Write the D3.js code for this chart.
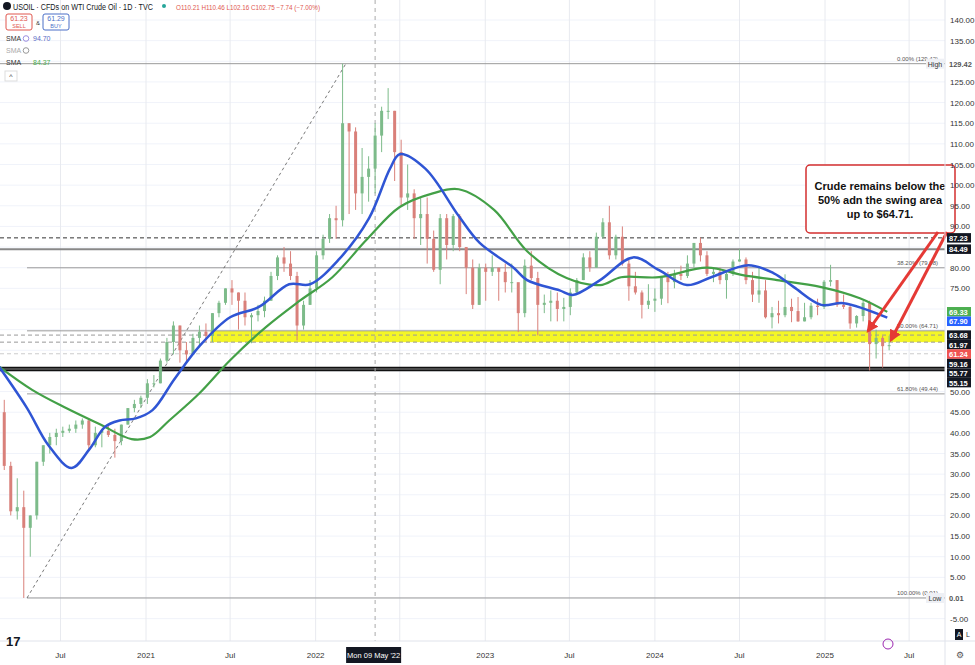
<!DOCTYPE html>
<html><head><meta charset="utf-8">
<script src="https://cdn.jsdelivr.net/npm/d3@7"></script>
<style>body{margin:0;background:#fff;font-family:"Liberation Sans",Arial,sans-serif}</style>
</head><body><svg id="c" width="975" height="665"></svg>
<script>
// biweekly candles [high, low, close], starting 2020-02-17
const candleStart = "2020-02-17";
const candles = [
[53,44,45],[48,31,32],[33,20,21],[29,19,22],[26,0.01,17],[20,10,20],[33,19,33],[37,32,37],[40,35,39],[41,37,40],
[41.5,39,40.5],[42,40,41],[43,40,42],[43.5,41,43],[43.5,36,37],[41.5,36.5,40],[41,36.5,40.5],[42,39,39.5],[41,34,38],[42,37,42],
[46,42,46],[48,45,47],[49,46,48.5],
[53,47,52],[54,51,52],[58,52,57.5],[63,57,62],[67,59,66],[66,57,60],[62,57,59],[64,59,63],[66,61,64.5],[66.5,62,63.5],
[69,62,69],[72,68,71.5],[75,71,75],[77,71,74],[74,65,72],[74,66,68],[69,61.7,68.5],[71,67,69.5],[73,68,72],[79,72,78],
[83,77,82.5],[85,79,81],[84,77,78],[79,62.4,66],[72,65,71],[77,71,75],
[84,74,83],[88,82,87],[93,86,92],[95,87,91.5],[129.42,90,115],[115,93,113],[114,94,98],[109,93,102],[107,96,104],[115,98,112],
[119,108,118],[123.5,116,118],[118,101,108],[111,95,97],[105,94,98],[99,87,92],[97,85.5,93],[97,81,87],[89,79,79.5],[93,76,92],
[93,82,85.5],[93,84,92.5],[93,84,85],[85,73.6,80],[82,70,71],[81,71,80],
[81,72,79],[83,78,80],[80,72,79],[81,74,76.5],[81,74,76.5],[76,64.4,69],[82,68,80.5],[84,77,77.5],[79,63.6,71],[73.5,69,71.5],
[74.5,67,72],[74,67,70],[72.7,67,70.5],[75,68.5,74],[77.5,73.5,77],[83.5,77,82.5],[84,79,80],[88.5,80,87.5],[92,87,91],[95,82,83],
[88,82,87.5],[90,80.5,81],[82,72,75.5],[79,73.5,74],[74.5,67.7,71],[76,70,72],
[75,69.3,72.5],[78,71,78],[79,71.4,76.5],[79.5,75,78.5],[80.5,77,78],[83,77.5,81],[86,80,86],[87.3,81.5,83],[84,78,78.5],[80,76.5,79],
[80,76,77],[79,72.5,78.5],[82,78,81.5],[84.5,81.5,82],[82.5,76,77],[79,71.7,73.5],[80,71.5,74.5],[77,67.7,68],[70.5,65.3,69],[72,66.5,68.5],
[78.4,68,70.5],[72.5,66.8,69.5],[72.9,66.9,67],[71.5,67,68],[71.5,67.5,70.8],[72.5,68.5,70.5],
[77,70,76.6],[80.7,75.5,77],[77,70.5,71],[73.5,70,70.5],[71,65.2,66.5],[68.5,65.5,68.3],[72,67,71.5],[72,55.12,61.5],[65,58,63],[63.5,55.8,61],[63.5,60,61.24]
];
const firstOpen = 52;
const blueSMA = [["2020-02-20",56],["2020-04-20",46],["2020-06-05",37],["2020-07-25",31.5],["2020-09-01",36],["2020-10-05",41.5],["2020-11-05",43],["2020-12-10",43.5],["2021-01-15",45.5],["2021-03-03",53],["2021-04-26",61],["2021-07-01",68],["2021-09-01",70.5],["2021-11-05",76],["2021-12-20",76],["2022-02-20",82],["2022-04-26",92],["2022-06-10",104],["2022-07-01",107.5],["2022-08-25",104],["2022-11-05",92.5],["2022-12-20",86],["2023-03-03",80],["2023-04-01",77],["2023-06-10",74.5],["2023-07-08",73.4],["2023-09-05",77],["2023-11-15",82.5],["2024-01-10",79.4],["2024-03-10",75.8],["2024-05-01",77.7],["2024-07-20",80.6],["2024-09-12",78.7],["2024-10-26",75.3],["2024-12-24",71],["2025-02-10",71.4],["2025-05-15",67.9]];
const greenSMA = [["2020-02-20",56],["2020-05-01",50.4],["2020-07-13",46],["2020-09-25",42],["2020-12-01",38.5],["2021-01-10",39],["2021-02-20",43],["2021-04-26",49.6],["2021-07-01",57.6],["2021-09-16",65.6],["2021-11-28",72],["2022-02-06",77.7],["2022-04-20",86.7],["2022-07-01",94.7],["2022-09-10",98],["2022-11-05",99],["2023-01-20",94],["2023-04-01",84],["2023-06-25",77.5],["2023-09-05",75.8],["2023-10-20",77.7],["2024-01-10",77.7],["2024-04-22",80],["2024-07-08",78.2],["2024-09-20",77],["2024-12-24",75.3],["2025-03-17",72.6],["2025-05-15",69.3]];
const yTicks = d3.range(-5, 141, 5);
const xTicks = [["2020-07-01","Jul"],["2021-01-01","2021"],["2021-07-01","Jul"],["2022-01-01","2022"],["2022-07-01","Jul"],["2023-01-01","2023"],["2023-07-01","Jul"],["2024-01-01","2024"],["2024-07-01","Jul"],["2025-01-01","2025"],["2025-07-01","Jul"]];
const levels = [
 {v:129.42,kind:"grey",fib:"0.00% (129.42)"},{v:87.23,kind:"dash"},{v:84.49,kind:"greyThick"},
 {v:79.98,kind:"grey",fib:"38.20% (79.98)"},{v:64.71,kind:"grey",fib:"50.00% (64.71)"},{v:63.68,kind:"dashLight"},
 {v:61.97,kind:"dashLight"},{v:59.16,kind:"dashFaint"},{v:55.77,kind:"black"},{v:55.15,kind:"black"},
 {v:49.44,kind:"grey",fib:"61.80% (49.44)"},{v:0.01,kind:"grey",fib:"100.00% (0.01)"}];
const priceTags = [[129.42,"#fff","#555","High"],[87.23,"#131722","#fff"],[84.49,"#131722","#fff"],[69.33,"#4caf50","#fff"],[67.90,"#2962ff","#fff"],[63.68,"#131722","#fff"],[61.97,"#131722","#fff"],[61.24,"#ef5350","#fff"],[59.16,"#131722","#fff"],[55.77,"#131722","#fff"],[55.15,"#131722","#fff"],[0.01,"#fff","#555","Low"]];
const bandTop = 64.71, bandBottom = 61.97, bandStart = "2021-05-20";
const diag = [["2020-04-20",0.01],["2022-03-07",129.42]];
const crossDate = "2022-05-09";

const P = d3.timeParse("%Y-%m-%d");
const svg = d3.select("#c");
const x = d3.scaleTime().domain([P("2021-01-01"), P("2025-01-01")]).range([146, 825]);
const y = d3.scaleLinear().domain([0, 140]).range([598, 20]);
const W = 945, H = 641;
const g = svg.append("g");
g.selectAll(".hg").data(yTicks).join("line").attr("x1",0).attr("x2",W).attr("y1",d=>y(d)).attr("y2",d=>y(d)).attr("stroke","#f0f3fa");
g.selectAll(".vg").data(xTicks).join("line").attr("y1",0).attr("y2",H).attr("x1",d=>x(P(d[0]))).attr("x2",d=>x(P(d[0]))).attr("stroke","#e8eaef");
g.append("rect").attr("x",x(P(bandStart))).attr("width",W-x(P(bandStart))).attr("y",y(bandTop)).attr("height",y(bandBottom)-y(bandTop)).attr("fill","#f2f500").attr("opacity",0.85);
const fibX = x(P("2020-04-20"));
levels.forEach(l=>{
  const ln = g.append("line").attr("x1", l.fib && l.v!==129.42 ? fibX : 0).attr("x2",W).attr("y1",y(l.v)).attr("y2",y(l.v));
  if(l.kind==="grey") ln.attr("stroke","#9a9a9a").attr("stroke-width",1);
  if(l.kind==="greyThick") ln.attr("stroke","#888").attr("stroke-width",2);
  if(l.kind==="dash") ln.attr("stroke","#333").attr("stroke-dasharray","4,3");
  if(l.kind==="dashLight") ln.attr("stroke","#999").attr("stroke-dasharray","4,3");
  if(l.kind==="dashFaint") ln.attr("stroke","#ccc").attr("stroke-dasharray","4,3");
  if(l.kind==="black") ln.attr("stroke","#111").attr("stroke-width",2);
  if(l.fib) g.append("text").attr("x",938).attr("y",y(l.v)-3).attr("text-anchor","end").attr("font-size",6).attr("fill","#555").text(l.fib);
});
g.append("line").attr("x1",x(P(diag[0][0]))).attr("y1",y(diag[0][1])).attr("x2",x(P(diag[1][0]))).attr("y2",y(diag[1][1])).attr("stroke","#555").attr("stroke-dasharray","3,3").attr("stroke-width",0.8);
g.append("line").attr("x1",x(P(crossDate))).attr("x2",x(P(crossDate))).attr("y1",0).attr("y2",H).attr("stroke","#aaa").attr("stroke-dasharray","4,4");
const start = P(candleStart);
const cd = candles.map((c,i)=>({d:d3.timeDay.offset(start,14*i),h:c[0],l:c[1],c:c[2],o:i?candles[i-1][2]:firstOpen}));
const cg = g.append("g");
cd.forEach(d=>{
  const col = d.c>=d.o ? "#7dbb8a" : "#d9807a";
  const cx = x(d.d);
  cg.append("line").attr("x1",cx).attr("x2",cx).attr("y1",y(d.h)).attr("y2",y(d.l)).attr("stroke",col).attr("stroke-width",1);
  cg.append("rect").attr("x",cx-1.5).attr("width",3).attr("y",y(Math.max(d.o,d.c))).attr("height",Math.max(1,Math.abs(y(d.o)-y(d.c)))).attr("fill",col);
});
const line = d3.line().x(d=>x(P(d[0]))).y(d=>y(d[1])).curve(d3.curveCatmullRom);
g.append("path").attr("d",line(greenSMA)).attr("fill","none").attr("stroke","#43a047").attr("stroke-width",2.2);
g.append("path").attr("d",line(blueSMA)).attr("fill","none").attr("stroke","#2f55d4").attr("stroke-width",2.5);
// annotation
svg.append("rect").attr("x",806).attr("y",165).attr("width",149).attr("height",68).attr("rx",4).attr("fill","#fff").attr("stroke","#d32f2f").attr("stroke-width",1.5);
["Crude remains below the","50% adn the swing area","up to $64.71."].forEach((t,i)=>svg.append("text").attr("x",880).attr("y",190+i*14).attr("text-anchor","middle").attr("font-size",11).attr("font-weight","bold").attr("fill","#111").text(t));
const defs = svg.append("defs");
defs.append("marker").attr("id","ah").attr("viewBox","0 0 10 10").attr("refX",8).attr("refY",5).attr("markerWidth",4).attr("markerHeight",4).attr("orient","auto").append("path").attr("d","M0,0L10,5L0,10z").attr("fill","#e53935");
[[938,232,868,331],[947,232,891,340]].forEach(a=>svg.append("line").attr("x1",a[0]).attr("y1",a[1]).attr("x2",a[2]).attr("y2",a[3]).attr("stroke","#e53935").attr("stroke-width",3).attr("marker-end","url(#ah)"));
// right axis
svg.append("line").attr("x1",W).attr("x2",W).attr("y1",0).attr("y2",665).attr("stroke","#e0e3eb");
const tagY = []; let prev = -1e9;
priceTags.forEach(t=>{ let yy = Math.max(y(t[0]), prev + 9.5); tagY.push(yy); prev = yy; });
const busy = tagY.map(v=>[v-8,v+8]);
svg.selectAll(".yt").data(yTicks.filter(v=>!busy.some(b=>y(v)>b[0]&&y(v)<b[1]))).join("text").attr("x",950).attr("y",d=>y(d)+3).attr("font-size",8).attr("fill","#333").text(d=>d.toFixed(2));
priceTags.forEach((t,i)=>{
  const yy = tagY[i];
  svg.append("rect").attr("x",947).attr("y",yy-4.75).attr("width",24).attr("height",9.5).attr("fill",t[1]);
  svg.append("text").attr("x",949).attr("y",yy+3).attr("font-size",7.5).attr("font-weight","bold").attr("fill",t[2]).text(t[0].toFixed(2));
  if(t[3]){svg.append("rect").attr("x",926).attr("y",yy-5).attr("width",18).attr("height",10).attr("fill","#eef0f5");
    svg.append("text").attr("x",935).attr("y",yy+3).attr("text-anchor","middle").attr("font-size",7).attr("fill","#333").text(t[3]);}
});
// bottom axis
svg.append("line").attr("x1",0).attr("x2",975).attr("y1",H).attr("y2",H).attr("stroke","#e0e3eb");
const cx0 = x(P(crossDate));
svg.selectAll(".xt").data(xTicks.filter(d=>Math.abs(x(P(d[0]))-cx0)>40)).join("text").attr("x",d=>x(P(d[0]))).attr("y",658).attr("text-anchor","middle").attr("font-size",8).attr("fill","#333").text(d=>d[1]);
svg.append("rect").attr("x",cx0-29).attr("y",647).attr("width",55).attr("height",16).attr("fill","#131722");
svg.append("text").attr("x",cx0-1.5).attr("y",658).attr("text-anchor","middle").attr("font-size",7.5).attr("fill","#fff").text("Mon 09 May '22");
svg.append("text").attr("x",6).attr("y",646).attr("font-size",13).attr("font-weight","900").attr("fill","#131722").text("17");
svg.append("text").attr("x",960).attr("y",658).attr("text-anchor","middle").attr("font-size",9).attr("fill","#555").text("⚙");
svg.append("rect").attr("x",955).attr("y",629).attr("width",8).attr("height",11).attr("fill","#131722");
svg.append("text").attr("x",959).attr("y",637).attr("text-anchor","middle").attr("font-size",7).attr("fill","#fff").text("A");
svg.append("text").attr("x",968).attr("y",637).attr("text-anchor","middle").attr("font-size",7).attr("fill","#333").text("L");
svg.append("circle").attr("cx",888).attr("cy",644).attr("r",5).attr("fill","none").attr("stroke","#9c27b0");
// header
const hd = svg.append("g");
hd.append("circle").attr("cx",7).attr("cy",6).attr("r",4).attr("fill","#131722");
hd.append("text").attr("x",13).attr("y",9.5).attr("font-size",8.5).attr("textLength",140).attr("lengthAdjust","spacingAndGlyphs").attr("fill","#131722").text("USOIL · CFDs on WTI Crude Oil · 1D · TVC");
hd.append("circle").attr("cx",164).attr("cy",6).attr("r",2).attr("fill","#26a69a");
hd.append("text").attr("x",176).attr("y",9.5).attr("font-size",6.3).attr("fill","#e0574f").text("O110.21 H110.46 L102.16 C102.75 −7.74 (−7.00%)");
[[6,"61.23","SELL","#e0574f"],[43,"61.29","BUY","#4a6fc7"]].forEach(b=>{
  hd.append("rect").attr("x",b[0]).attr("y",14).attr("width",26).attr("height",16).attr("rx",2).attr("fill","#fff").attr("stroke",b[3]);
  hd.append("text").attr("x",b[0]+13).attr("y",21).attr("text-anchor","middle").attr("font-size",7).attr("fill",b[3]).text(b[1]);
  hd.append("text").attr("x",b[0]+13).attr("y",28).attr("text-anchor","middle").attr("font-size",5.5).attr("fill",b[3]).text(b[2]);
});
hd.append("text").attr("x",36).attr("y",25).attr("font-size",6).attr("fill","#333").text("&");
[[41,"SMA","94.70","#5a6bc4","#333",true],[53,"SMA","","#aaa","#aaa",true],[65,"SMA","84.37","#4caf50","#333",false]].forEach(s=>{
  hd.append("text").attr("x",6).attr("y",s[0]).attr("font-size",7).attr("fill",s[4]).text(s[1]);
  if(s[5]) hd.append("circle").attr("cx",26).attr("cy",s[0]-2.5).attr("r",2.8).attr("fill","none").attr("stroke",s[2]?"#9c8fe0":"#999");
  hd.append("text").attr("x",33).attr("y",s[0]).attr("font-size",7).attr("fill",s[3]).text(s[2]);
});
hd.append("rect").attr("x",5).attr("y",71).attr("width",12).attr("height",10).attr("fill","#fff").attr("stroke","#ddd");
hd.append("text").attr("x",11).attr("y",79).attr("text-anchor","middle").attr("font-size",7).attr("fill","#333").text("^");
</script></body></html>
